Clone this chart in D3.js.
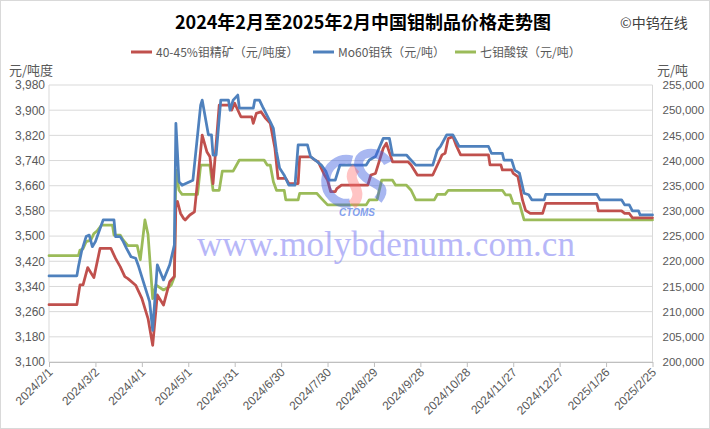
<!DOCTYPE html>
<html><head><meta charset="utf-8">
<script src="https://cdn.jsdelivr.net/npm/d3@7"></script>
<style>body{margin:0;background:#fff}svg{display:block}</style>
</head><body>
<svg id="chart" width="710" height="429"></svg>
<script>
// ---------------- data ----------------
const xTickLabels = ["2024/2/1","2024/3/2","2024/4/1","2024/5/1","2024/5/31","2024/6/30","2024/7/30","2024/8/29","2024/9/28","2024/10/28","2024/11/27","2024/12/27","2025/1/26","2025/2/25"];
const leftTicks = [3100,3180,3260,3340,3420,3500,3580,3660,3740,3820,3900,3980];
const rightTicks = [200000,205000,210000,215000,220000,225000,230000,235000,240000,245000,250000,255000];
const seriesNames = ["40-45%钼精矿（元/吨度）","Mo60钼铁（元/吨）","七钼酸铵（元/吨）"];

// 40-45% molybdenum concentrate (left axis, 元/吨度)
const concDates = ["2024-02-01","2024-02-19","2024-02-21","2024-02-23","2024-02-26","2024-03-01","2024-03-05","2024-03-12","2024-03-15","2024-03-18","2024-03-21","2024-03-23","2024-03-28","2024-04-01","2024-04-05","2024-04-08","2024-04-11","2024-04-15","2024-04-19","2024-04-22","2024-04-23","2024-04-24","2024-04-26","2024-04-28","2024-04-29","2024-05-02","2024-05-05","2024-05-10","2024-05-13","2024-05-15","2024-05-17","2024-05-21","2024-05-28","2024-05-29","2024-05-31","2024-06-04","2024-06-11","2024-06-12","2024-06-14","2024-06-17","2024-06-20","2024-06-23","2024-06-26","2024-06-28","2024-07-03","2024-07-05","2024-07-11","2024-07-12","2024-07-19","2024-07-22","2024-07-24","2024-07-28","2024-07-30","2024-08-01","2024-08-04","2024-08-05","2024-08-08","2024-08-25","2024-08-27","2024-08-30","2024-09-04","2024-09-06","2024-09-10","2024-09-20","2024-09-22","2024-09-26","2024-10-06","2024-10-09","2024-10-12","2024-10-14","2024-10-16","2024-10-19","2024-10-21","2024-10-24","2024-11-11","2024-11-12","2024-11-19","2024-11-20","2024-11-26","2024-11-27","2024-11-30","2024-12-03","2024-12-05","2024-12-08","2024-12-16","2024-12-18","2025-01-20","2025-01-21","2025-02-05","2025-02-07","2025-02-10","2025-02-12","2025-02-25"];
const concValues = [3282,3282,3345,3345,3400,3368,3461,3461,3429,3403,3371,3365,3344,3302,3238,3153,3313,3281,3355,3372,3600,3610,3572,3556,3551,3567,3577,3821,3768,3752,3667,3916,3916,3900,3922,3879,3879,3858,3890,3895,3874,3858,3779,3683,3683,3667,3667,3752,3752,3741,3736,3694,3678,3641,3641,3651,3662,3662,3694,3699,3779,3795,3736,3736,3726,3694,3694,3726,3758,3763,3810,3816,3790,3758,3758,3726,3726,3710,3710,3699,3689,3614,3582,3572,3572,3604,3604,3580,3580,3572,3572,3558,3558];

// Mo60 ferromolybdenum (right axis, 元/吨)
const feMoDates = ["2024-02-01","2024-02-19","2024-02-20","2024-02-22","2024-02-25","2024-02-27","2024-02-29","2024-03-02","2024-03-05","2024-03-07","2024-03-14","2024-03-15","2024-03-18","2024-03-20","2024-03-22","2024-03-25","2024-03-28","2024-03-30","2024-04-02","2024-04-06","2024-04-08","2024-04-11","2024-04-15","2024-04-19","2024-04-20","2024-04-22","2024-04-23","2024-04-25","2024-04-27","2024-05-04","2024-05-09","2024-05-10","2024-05-14","2024-05-16","2024-05-17","2024-05-19","2024-05-22","2024-05-27","2024-05-28","2024-05-30","2024-06-02","2024-06-03","2024-06-12","2024-06-13","2024-06-16","2024-06-18","2024-06-23","2024-06-25","2024-06-27","2024-06-29","2024-07-02","2024-07-05","2024-07-09","2024-07-11","2024-07-17","2024-07-19","2024-07-22","2024-07-26","2024-07-29","2024-07-31","2024-08-04","2024-08-07","2024-08-24","2024-08-26","2024-08-30","2024-09-04","2024-09-08","2024-09-10","2024-09-19","2024-09-21","2024-09-25","2024-10-06","2024-10-09","2024-10-11","2024-10-15","2024-10-19","2024-10-23","2024-11-11","2024-11-13","2024-11-20","2024-11-21","2024-11-26","2024-11-28","2024-12-01","2024-12-04","2024-12-07","2024-12-09","2024-12-17","2024-12-18","2025-01-20","2025-01-22","2025-02-05","2025-02-07","2025-02-10","2025-02-12","2025-02-16","2025-02-17","2025-02-25"];
const feMoValues = [217100,217100,218900,221900,224900,225200,222900,223900,226500,228200,228200,224900,224900,223900,222600,220900,220600,218900,215900,212000,206300,219300,216300,219300,220600,223200,247400,235800,235100,236100,251000,252000,245100,245100,241100,241100,252000,252000,250000,252000,253000,250400,250400,252000,252000,250700,247700,246400,241800,238500,237100,235100,235100,243100,243100,240800,240100,239100,237800,236100,236100,239100,239100,240100,240800,244400,244400,241100,241100,240400,239100,239100,242100,242800,245100,245100,242800,242800,241400,241400,240100,240100,238100,237500,233500,233200,232200,232200,233300,233300,232200,232200,231200,231200,230000,230000,229200,229200];

// Ammonium heptamolybdate (right axis, 元/吨)
const ahmDates = ["2024-02-01","2024-02-20","2024-02-21","2024-02-23","2024-02-25","2024-02-28","2024-03-01","2024-03-03","2024-03-06","2024-03-13","2024-03-14","2024-03-18","2024-03-20","2024-03-23","2024-03-29","2024-03-31","2024-04-03","2024-04-05","2024-04-08","2024-04-10","2024-04-15","2024-04-19","2024-04-20","2024-04-22","2024-04-23","2024-04-25","2024-04-27","2024-05-07","2024-05-09","2024-05-15","2024-05-17","2024-05-21","2024-05-23","2024-05-30","2024-06-03","2024-06-19","2024-06-21","2024-06-23","2024-06-25","2024-06-27","2024-07-02","2024-07-03","2024-07-11","2024-07-12","2024-07-23","2024-07-26","2024-07-30","2024-08-24","2024-08-26","2024-08-31","2024-09-03","2024-09-10","2024-09-12","2024-09-19","2024-09-22","2024-09-25","2024-10-07","2024-10-09","2024-10-14","2024-10-16","2024-11-20","2024-11-22","2024-11-25","2024-11-27","2024-12-01","2024-12-04","2025-02-25"];
const ahmValues = [221100,221100,222200,222500,223900,224200,225500,226000,227200,227200,225200,225200,224200,223100,223100,220300,228200,225300,212600,215300,214300,215000,215300,216900,238100,234100,233300,233300,239100,239100,234100,234100,237900,237900,240100,240100,239100,239100,235800,234100,234100,232200,232200,233500,233500,232500,231200,231200,232200,232200,236100,236100,235100,235100,234100,232200,232200,233300,233300,234100,234100,233200,233200,231500,231500,228200,228200];

// ---------------- chart ----------------
const svg = d3.select("#chart");
const L = 49, R = 652.5, T = 85, B = 362;
const parse = d3.timeParse("%Y-%m-%d");
const parseTick = s => { const p = s.split("/").map(Number); return new Date(p[0], p[1]-1, p[2]); };
const xTicks = xTickLabels.map(parseTick);

const x = d3.scaleTime().domain([xTicks[0], xTicks[xTicks.length-1]]).range([L, R]);
const yL = d3.scaleLinear().domain([leftTicks[0], leftTicks[leftTicks.length-1]]).range([B, T]);
const yR = d3.scaleLinear().domain([rightTicks[0], rightTicks[rightTicks.length-1]]).range([B, T]);

const CJK = "'Noto Sans CJK SC','Noto Sans',sans-serif";
const NUM = "'Liberation Sans','Noto Sans CJK SC',sans-serif";
const txt = "#595959";

svg.append("rect").attr("x",0.5).attr("y",0.5).attr("width",709).attr("height",428)
  .attr("fill","#fff").attr("stroke","#d9d9d9");

// gridlines
svg.append("g").selectAll("line").data(leftTicks).join("line")
  .attr("x1", L).attr("x2", R).attr("y1", d => yL(d)).attr("y2", d => yL(d))
  .attr("stroke", "#d9d9d9").attr("stroke-width", 1);
svg.append("line").attr("x1",L).attr("x2",L).attr("y1",T).attr("y2",B).attr("stroke","#d9d9d9");
svg.append("line").attr("x1",R).attr("x2",R).attr("y1",T).attr("y2",B).attr("stroke","#d9d9d9");

// left axis
const gL = svg.append("g").attr("transform", `translate(${L},0)`)
  .call(d3.axisLeft(yL).tickValues(leftTicks).tickFormat(d3.format(",")).tickSize(0).tickPadding(4));
gL.select(".domain").remove();
gL.selectAll("text").attr("fill", txt).style("font-family", NUM).style("font-size", "12px");

// right axis
const gR = svg.append("g").attr("transform", `translate(${R},0)`)
  .call(d3.axisRight(yR).tickValues(rightTicks).tickFormat(d3.format(",")).tickSize(0).tickPadding(10));
gR.select(".domain").remove();
gR.selectAll("text").attr("fill", txt).style("font-family", NUM).style("font-size", "11.5px");

// bottom axis
const gB = svg.append("g").attr("transform", `translate(0,${B})`)
  .call(d3.axisBottom(x).tickValues(xTicks).tickFormat((d,i) => xTickLabels[i]).tickSize(5).tickSizeOuter(0));
gB.select(".domain").attr("stroke", "#bfbfbf");
gB.selectAll(".tick line").attr("stroke", "#bfbfbf");
gB.selectAll("text").attr("fill", txt).style("font-family", NUM).style("font-size", "12px")
  .attr("text-anchor", "end").attr("dy", null).attr("y", null)
  .attr("transform", "translate(4,11) rotate(-45)");

// lines
const mk = (dates, values) => dates.map((d,i) => ({date: parse(d), v: values[i]}));
const series = [
  {data: mk(concDates, concValues), y: yL, color: "#c0504d"},
  {data: mk(feMoDates, feMoValues), y: yR, color: "#4f81bd"},
  {data: mk(ahmDates, ahmValues), y: yR, color: "#9bbb59"}
];
const drawOrder = [2, 0, 1];
drawOrder.forEach(i => {
  const s = series[i];
  svg.append("path").datum(s.data)
    .attr("fill", "none").attr("stroke", s.color).attr("stroke-width", 2.75)
    .attr("stroke-linejoin", "round").attr("stroke-linecap", "round")
    .attr("d", d3.line().x(d => x(d.date)).y(d => s.y(d.v)));
});

// watermark logo (CTOMS)
const logo = svg.append("g").attr("pointer-events","none");
logo.append("path").attr("d","M352 160 A21 22 0 1 0 350 203")
  .attr("fill","none").attr("stroke","#3f5fe0").attr("stroke-width",9).attr("opacity",0.45);
logo.append("path").attr("d","M388 163 C380 148, 352 150, 360 170 C366 186, 392 182, 378 200")
  .attr("fill","none").attr("stroke","#3f5fe0").attr("stroke-width",9).attr("opacity",0.45);
logo.append("path").attr("d","M356 168 C342 180, 368 190, 352 205")
  .attr("fill","none").attr("stroke","#ff6b6b").attr("stroke-width",10).attr("opacity",0.4);
logo.append("text").attr("x",357).attr("y",216).attr("text-anchor","middle")
  .style("font-family","'Liberation Sans',sans-serif").style("font-size","10px")
  .style("font-weight","bold").style("font-style","italic")
  .attr("fill","#5b82e8").attr("opacity",0.75).text("CTOMS");

// watermark text
svg.append("text").attr("x", 386).attr("y", 256).attr("text-anchor","middle")
  .style("font-family","'Liberation Serif','DejaVu Serif',serif").style("font-size","35px")
  .attr("fill","#7272f2").attr("opacity",0.5).text("www.molybdenum.com.cn");

// title
svg.append("text").attr("x", 363).attr("y", 29).attr("text-anchor","middle")
  .style("font-family", CJK).style("font-size","18px").style("font-weight","bold")
  .attr("fill","#000").text("2024年2月至2025年2月中国钼制品价格走势图");
svg.append("text").attr("x", 620).attr("y", 28)
  .style("font-family", CJK).style("font-size","14px").attr("fill","#404040").text("©中钨在线");

// legend
const legendX = [131, 313, 455];
const legendColors = ["#c0504d","#4f81bd","#9bbb59"];
seriesNames.forEach((n,i) => {
  svg.append("line").attr("x1",legendX[i]).attr("x2",legendX[i]+21).attr("y1",52).attr("y2",52)
    .attr("stroke",legendColors[i]).attr("stroke-width",3);
  svg.append("text").attr("x",legendX[i]+25).attr("y",56.5)
    .style("font-family",CJK).style("font-size","12px").attr("fill",txt).text(n);
});

// unit labels
svg.append("text").attr("x",9).attr("y",75).style("font-family",CJK).style("font-size","13px").attr("fill",txt).text("元/吨度");
svg.append("text").attr("x",657).attr("y",75).style("font-family",CJK).style("font-size","13px").attr("fill",txt).text("元/吨");
</script>
</body></html>
